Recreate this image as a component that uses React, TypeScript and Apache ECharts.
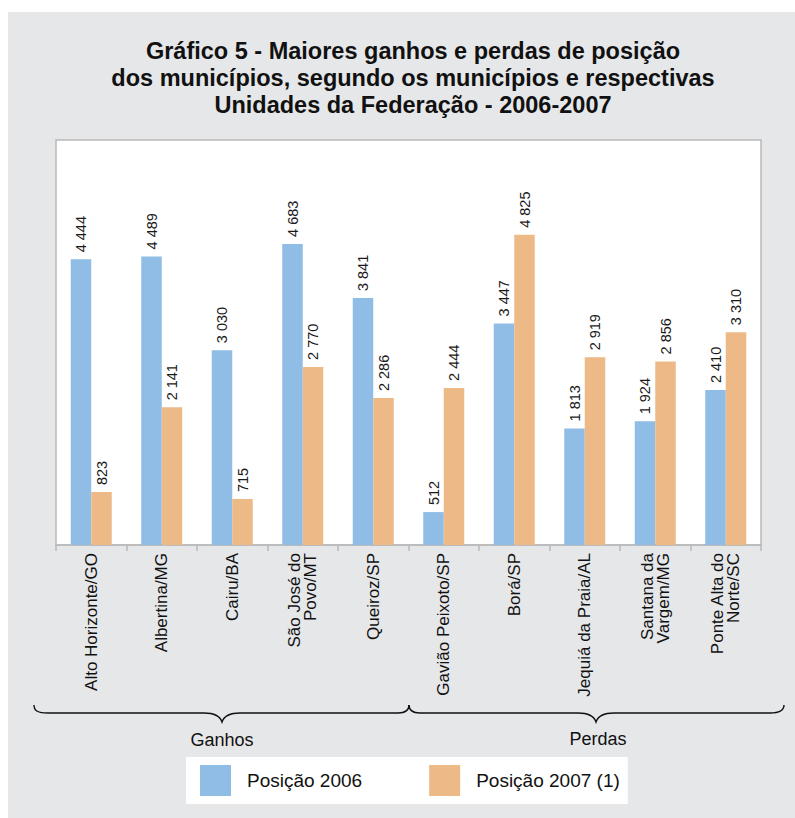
import React, { useEffect, useRef } from "react";
import * as echarts from "echarts";

const categories = [
  "Alto Horizonte/GO",
  "Albertina/MG",
  "Cairu/BA",
  "São José do\nPovo/MT",
  "Queiroz/SP",
  "Gavião Peixoto/SP",
  "Borá/SP",
  "Jequiá da Praia/AL",
  "Santana da\nVargem/MG",
  "Ponte Alta do\nNorte/SC",
];
const pos2006 = [4444, 4489, 3030, 4683, 3841, 512, 3447, 1813, 1924, 2410];
const pos2007 = [823, 2141, 715, 2770, 2286, 2444, 4825, 2919, 2856, 3310];
const seriesNames = ["Posição 2006", "Posição 2007 (1)"];
const groupLabels = ["Ganhos", "Perdas"];
const titleText =
  "Gráfico 5 - Maiores ganhos e perdas de posição\ndos municípios, segundo os municípios e respectivas\nUnidades da Federação - 2006-2007";

const FONT = "'Liberation Sans', Arial, Helvetica, sans-serif";
const BLUE = "#8fbde6";
const ORANGE = "#edba87";
const BG = "#e6e7e9";

const fmt = (v: number) => {
  const s = String(Math.round(v));
  return s.replace(/\B(?=(\d{3})+(?!\d))/g, " ");
};

// brace paths in chart coordinates
const braceLeft =
  "M26,693 C26,699 30,701 40,701 L196,701 C206,701 212,704 214,710 C216,704 222,701 232,701 L390,701 C398,701 401,698 401,693";
const braceRight =
  "M401,693 C401,698 404,701 412,701 L570,701 C580,701 586,704 588,710 C590,704 596,701 606,701 L762,701 C772,701 776,698 776,693";

let registered = false;
function registerShapes() {
  if (registered) return;
  echarts.graphic.registerShape("braceL", echarts.graphic.extendPath(braceLeft, {}));
  echarts.graphic.registerShape("braceR", echarts.graphic.extendPath(braceRight, {}));
  registered = true;
}

export default function App() {
  const ref = useRef<HTMLDivElement>(null);
  useEffect(() => {
    if (!ref.current) return;
    registerShapes();
    const chart = echarts.init(ref.current, undefined, { renderer: "svg" });
    const labelCommon = {
      show: true,
      position: "top" as const,
      rotate: 90,
      align: "left" as const,
      verticalAlign: "middle" as const,
      distance: 7,
      fontSize: 14.5,
      fontFamily: FONT,
      color: "#1a1a1a",
      formatter: (p: any) => fmt(p.value),
    };
    chart.setOption({
      animation: false,
      backgroundColor: BG,
      textStyle: { fontFamily: FONT },
      title: {
        text: titleText,
        left: 400,
        top: 20,
        textAlign: "center",
        textStyle: {
          fontFamily: FONT,
          fontWeight: "bold",
          fontSize: 23.5,
          lineHeight: 27,
          color: "#111",
        },
      },
      grid: {
        left: 48,
        right: 34,
        top: 128,
        bottom: 273,
        show: true,
        backgroundColor: "#ffffff",
        borderColor: "#b9b9b9",
        borderWidth: 1.5,
      },
      legend: {
        data: seriesNames,
        left: 178,
        top: 745,
        orient: "horizontal",
        backgroundColor: "#ffffff",
        padding: [8, 8, 8, 14],
        itemWidth: 31,
        itemHeight: 31,
        itemGap: 67,
        icon: "rect",
        textStyle: { fontFamily: FONT, fontSize: 19, color: "#111", padding: [0, 0, 0, 11] },
      },
      xAxis: {
        type: "category",
        data: categories,
        axisLine: { show: true, lineStyle: { color: "#b9b9b9", width: 1.5 } },
        axisTick: { show: true, length: 6, lineStyle: { color: "#b9b9b9", width: 1.5 } },
        axisLabel: {
          rotate: 90,
          margin: 8,
          fontSize: 17,
          lineHeight: 16,
          fontFamily: FONT,
          color: "#111",
          interval: 0,
        },
      },
      yAxis: {
        type: "value",
        min: 0,
        max: 6300,
        show: false,
        splitLine: { show: false },
      },
      series: [
        {
          name: seriesNames[0],
          type: "bar",
          data: pos2006,
          barWidth: 20.5,
          barGap: "0%",
          itemStyle: { color: BLUE },
          label: labelCommon,
        },
        {
          name: seriesNames[1],
          type: "bar",
          data: pos2007,
          barWidth: 20.5,
          barGap: "0%",
          itemStyle: { color: ORANGE },
          label: labelCommon,
        },
      ],
      graphic: [
        {
          type: "braceL",
          x: 0,
          y: 0,
          style: { fill: "none", stroke: "#111", lineWidth: 1.4 },
        },
        {
          type: "braceR",
          x: 0,
          y: 0,
          style: { fill: "none", stroke: "#111", lineWidth: 1.4 },
        },
        {
          type: "text",
          x: 214,
          y: 728,
          style: {
            text: groupLabels[0],
            fontFamily: FONT,
            fontSize: 18,
            fill: "#111",
            align: "center",
            verticalAlign: "middle",
          },
        },
        {
          type: "text",
          x: 590,
          y: 727,
          style: {
            text: groupLabels[1],
            fontFamily: FONT,
            fontSize: 18,
            fill: "#111",
            align: "center",
            verticalAlign: "middle",
          },
        },
      ],
    });
    return () => chart.dispose();
  }, []);
  return (
    <div
      ref={ref}
      style={{ position: "fixed", left: 8, top: 12, width: 787, height: 806 }}
    />
  );
}
